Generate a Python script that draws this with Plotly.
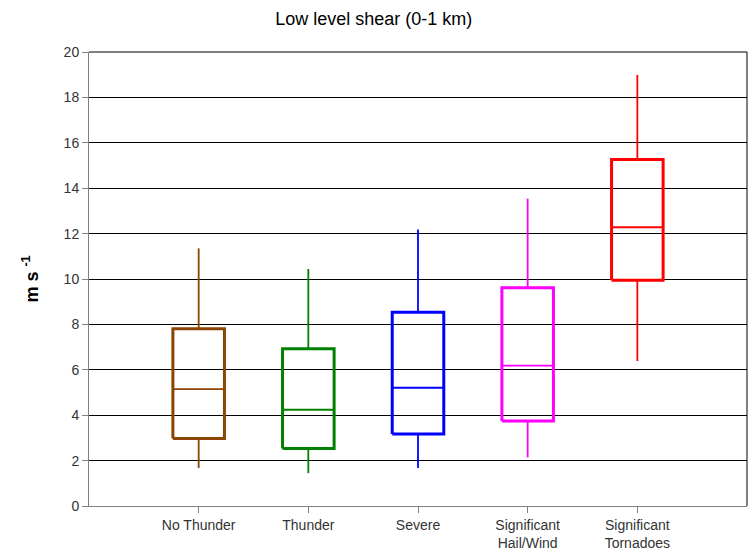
import plotly.graph_objects as go

categories = ["No Thunder", "Thunder", "Severe", "Significant<br>Hail/Wind", "Significant<br>Tornadoes"]
whisker_low = [1.67, 1.45, 1.67, 2.14, 6.39]
q1 = [2.97, 2.53, 3.17, 3.74, 9.95]
median = [5.15, 4.24, 5.21, 6.18, 12.28]
q3 = [7.81, 6.93, 8.53, 9.62, 15.26]
whisker_high = [11.35, 10.44, 12.18, 13.54, 18.99]
colors = ["#8B4500", "#008000", "#0000FF", "#FF00FF", "#FF0000"]
y_ticks = [0, 2, 4, 6, 8, 10, 12, 14, 16, 18, 20]

positions = list(range(1, len(categories) + 1))
half = 0.235

fig = go.Figure()
for i, pos in enumerate(positions):
    c = colors[i]
    # whiskers
    fig.add_trace(go.Scatter(x=[pos, pos, None, pos, pos],
                             y=[whisker_low[i], q1[i], None, q3[i], whisker_high[i]],
                             mode="lines", line=dict(color=c, width=1.8),
                             showlegend=False, hoverinfo="skip"))
    # median
    fig.add_trace(go.Scatter(x=[pos - half, pos + half], y=[median[i], median[i]],
                             mode="lines", line=dict(color=c, width=1.8),
                             showlegend=False, hoverinfo="skip"))
    # box
    fig.add_trace(go.Scatter(x=[pos - half, pos + half, pos + half, pos - half, pos - half],
                             y=[q1[i], q1[i], q3[i], q3[i], q1[i]],
                             mode="lines", line=dict(color=c, width=3),
                             showlegend=False, name=categories[i].replace("<br>", " ")))

fig.update_layout(
    width=755, height=559,
    margin=dict(l=89, r=8, t=52, b=51),
    paper_bgcolor="white", plot_bgcolor="white",
    font=dict(family="Liberation Sans, Arial, sans-serif", color="#333333", size=14),
    title=dict(text="Low level shear (0-1 km)", x=0.495, xanchor="center", y=0.967, yanchor="middle",
               font=dict(size=18, color="black")),
    showlegend=False,
    xaxis=dict(range=[0, 6], tickmode="array", tickvals=positions, ticktext=categories,
               showgrid=False, zeroline=False, showline=True, linecolor="#808080", linewidth=1,
               ticks="outside", ticklen=6, tickcolor="#808080", mirror=False,
               tickfont=dict(size=14, color="#333333")),
    yaxis=dict(range=[0, 20], tickmode="array", tickvals=y_ticks,
               showgrid=True, gridcolor="black", gridwidth=1, zeroline=False,
               showline=True, linecolor="#808080", linewidth=1,
               ticks="outside", ticklen=6, tickcolor="#808080",
               tickfont=dict(size=14, color="#333333"),
               title=dict(text="<b>m s <sup>-1</sup></b>", font=dict(size=18, color="black"), standoff=20)),
)
# right and top border
fig.add_shape(type="line", xref="paper", yref="paper", x0=1, x1=1, y0=0, y1=1,
              line=dict(color="black", width=1))
fig.add_shape(type="line", xref="paper", yref="paper", x0=0, x1=1, y0=1, y1=1,
              line=dict(color="black", width=1))

fig.write_html("out.html")
